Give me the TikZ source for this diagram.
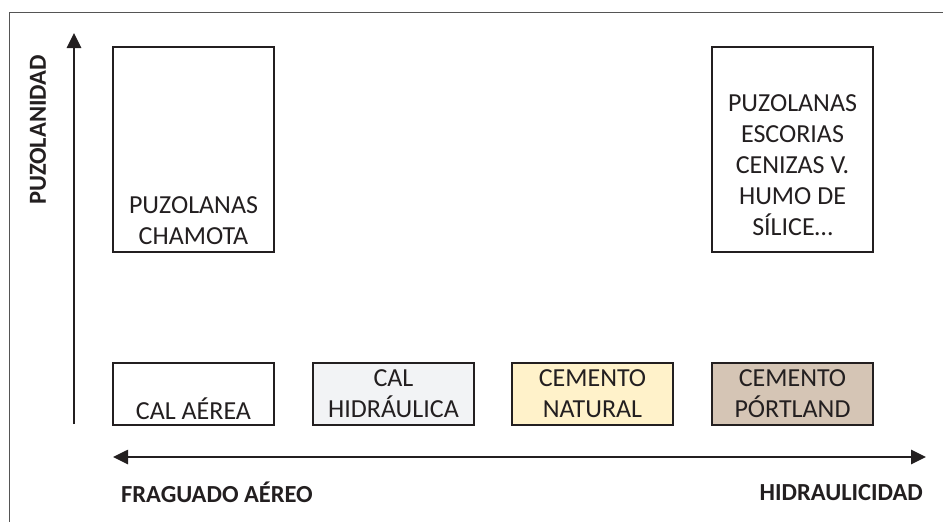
\documentclass[tikz,border=0pt]{standalone}
\usepackage{fontspec}
\setmainfont{Carlito}
\usetikzlibrary{arrows.meta}
\definecolor{edge}{HTML}{231F20}
\definecolor{fillA}{HTML}{F2F3F5}
\definecolor{fillB}{HTML}{FFF2CA}
\definecolor{fillC}{HTML}{D5C5B5}
\definecolor{framec}{HTML}{555555}
\tikzset{
  box/.style={draw=edge, line width=1.8pt, minimum width=161pt, inner sep=0pt},
  tallbox/.style={box, minimum height=205pt},
  lowbox/.style={box, minimum height=62pt},
  txt/.style={font=\fontsize{26}{31}\selectfont, text=edge, align=center, inner sep=0pt},
  btxt/.style={font=\fontsize{24.5}{29}\selectfont\bfseries, text=edge, inner sep=0pt},
  axis/.style={line width=2.6pt, draw=edge, -{Triangle[length=15pt,width=14pt]}},
  axis2/.style={line width=2.6pt, draw=edge, {Triangle[length=15pt,width=14pt]}-{Triangle[length=15pt,width=14pt]}}
}
\begin{document}
\begin{tikzpicture}[x=1pt,y=-1pt]
\useasboundingbox (0,0) rectangle (943,522);
\fill[white] (0,0) rectangle (943,522);
% frame
\draw[framec, line width=0.9pt] (943,12) -- (9,12) -- (9,522);
% boxes
\node[tallbox] (t1) at (193.5,149.5) {};
\node[tallbox] (t2) at (792.5,149.5) {};
\node[lowbox] (b1) at (193.5,394) {};
\node[lowbox, fill=fillA] (b2) at (393.5,394) {};
\node[lowbox, fill=fillB] (b3) at (592.5,394) {};
\node[lowbox, fill=fillC] (b4) at (792.5,394) {};
% texts
\node[txt] (l1) at (193.5,221) {PUZOLANAS\\CHAMOTA};
\node[txt] (l2) at (792.5,165) {PUZOLANAS\\ESCORIAS\\CENIZAS V.\\HUMO DE\\SÍLICE…};
\node[txt] (l3) at (193.5,409) {CAL AÉREA};
\node[txt] (l4) at (393.5,394) {CAL\\HIDRÁULICA};
\node[txt] (l5) at (592.5,394) {CEMENTO\\NATURAL};
\node[txt] (l6) at (792.5,394) {CEMENTO\\PÓRTLAND};
% axes
\coordinate (v0) at (74,424);
\coordinate (v1) at (74,33);
\coordinate (h0) at (113,457);
\coordinate (h1) at (926,457);
\draw[axis] (v0) -- (v1);
\draw[axis2] (h0) -- (h1);
% axis labels
\node[btxt, rotate=90] (py) at (38,130) {PUZOLANIDAD};
\node[btxt] (fa) at (217,492) {FRAGUADO AÉREO};
\node[btxt, anchor=east] (hi) at (923,493) {HIDRAULICIDAD};
\end{tikzpicture}
\end{document}
